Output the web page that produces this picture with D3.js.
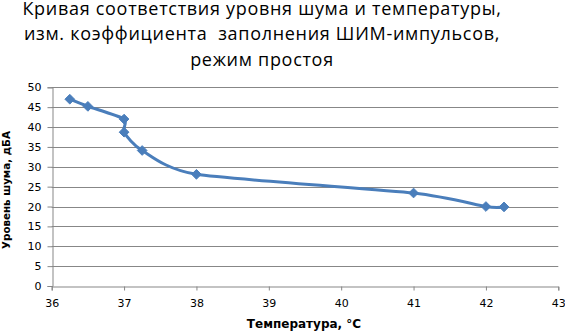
<!DOCTYPE html>
<html><head><meta charset="utf-8">
<script src="https://cdn.jsdelivr.net/npm/d3@7"></script>
<style>body{margin:0;background:#fff}svg{display:block}</style>
</head><body>
<script>
const titleLines = ["Кривая соответствия уровня шума и температуры,", "изм. коэффициента  заполнения ШИМ-импульсов,", "режим простоя"];
const temps = [36.25, 36.5, 37.0, 37.0, 37.25, 38.0, 41.0, 42.0, 42.25];
const noise = [47.0, 45.2, 42.0, 38.7, 34.1, 28.1, 23.4, 20.0, 19.9];
const xTicks = [36, 37, 38, 39, 40, 41, 42, 43];
const yTicks = [0, 5, 10, 15, 20, 25, 30, 35, 40, 45, 50];
const xTitle = "Температура, °C";
const yTitle = "Уровень шума, дБА";

const W = 565, H = 332;
const svg = d3.select("body").append("svg").attr("width", W).attr("height", H);
const x = d3.scaleLinear().domain([36, 43]).range([51.7, 558.3]);
const y = d3.scaleLinear().domain([0, 50]).range([286, 87.3]);

const tf = "'Open Sans', 'Liberation Sans', sans-serif";
svg.append("g").selectAll("text").data(titleLines).join("text")
  .attr("x", 262).attr("y", (d, i) => 15 + i * 25.3)
  .attr("text-anchor", "middle").attr("font-family", tf).attr("font-size", 18)
  .attr("letter-spacing", 0.7)
  .style("white-space", "pre")
  .attr("fill", "#000").text(d => d);

// gridlines
svg.append("g").selectAll("line").data(yTicks.filter(d => d > 0)).join("line")
  .attr("x1", x(36)).attr("x2", x(43)).attr("y1", d => Math.round(y(d)) + 0.5).attr("y2", d => Math.round(y(d)) + 0.5)
  .attr("stroke", "#878787").attr("stroke-width", 1);

const gx = svg.append("g").attr("transform", `translate(0,${Math.round(y(0)) + 0.5})`)
  .call(d3.axisBottom(x).tickValues(xTicks).tickSize(4).tickPadding(9).tickFormat(d3.format("d")));
const gy = svg.append("g").attr("transform", `translate(${Math.round(x(36)) + 0.5},0)`)
  .call(d3.axisLeft(y).tickValues(yTicks).tickSize(5).tickPadding(6).tickFormat(d3.format("d")));
[gx, gy].forEach(g => {
  g.select(".domain").attr("stroke", "#878787");
  g.selectAll(".tick line").attr("stroke", "#878787");
  g.selectAll("text").attr("font-family", "'DejaVu Sans', Verdana, sans-serif").attr("font-size", 11).attr("fill", "#000");
});

svg.append("text").attr("x", 304).attr("y", 328).attr("text-anchor", "middle")
  .attr("font-family", "'DejaVu Sans', Verdana, sans-serif").attr("font-weight", "bold").attr("font-size", 12)
  .text(xTitle);
svg.append("text").attr("transform", "translate(10,190) rotate(-90)").attr("text-anchor", "middle")
  .attr("font-family", "'DejaVu Sans', Verdana, sans-serif").attr("font-weight", "bold").attr("font-size", 10.3)
  .text(yTitle);

const pts = temps.map((t, i) => [x(t), y(noise[i])]);
svg.append("path").attr("d", d3.line().curve(d3.curveCardinal.tension(0.33))(pts))
  .attr("fill", "none").attr("stroke", "#4A7EBB").attr("stroke-width", 3);
svg.append("g").selectAll("path").data(pts).join("path")
  .attr("transform", d => `translate(${d[0]},${d[1]})`)
  .attr("d", d3.symbol().type(d3.symbolDiamond2).size(60))
  .attr("fill", "#4A7EBB").attr("stroke", "#4A7EBB");
</script>
</body></html>
